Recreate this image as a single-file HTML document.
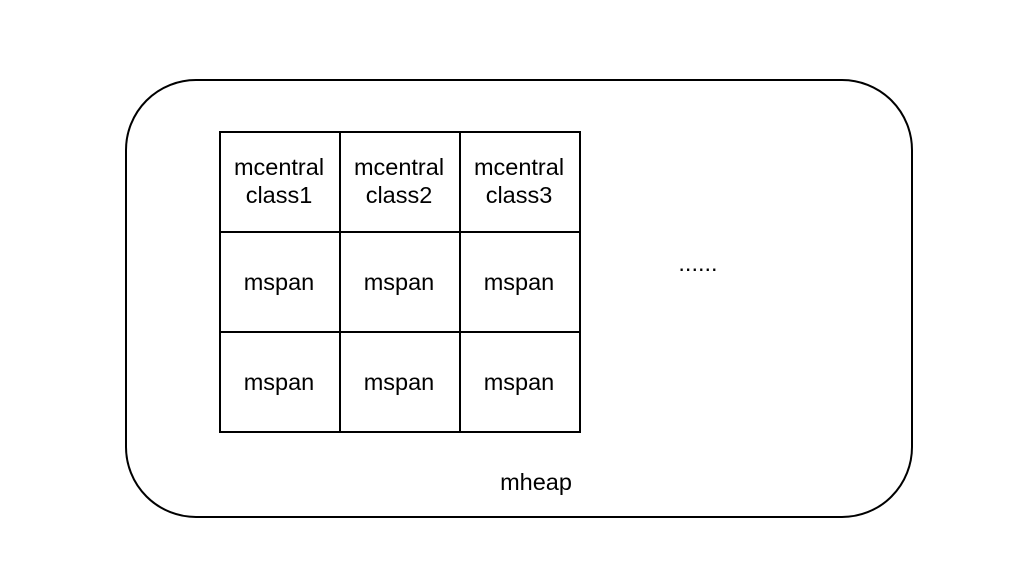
<!DOCTYPE html>
<html><head><style>
body{margin:0;width:1032px;height:582px;background:#fff;overflow:hidden;font-family:"Liberation Sans",Helvetica,Arial,sans-serif;}
</style></head><body>
<svg width="1032" height="582" xmlns="http://www.w3.org/2000/svg" font-family="Liberation Sans, Helvetica, Arial, sans-serif" font-size="23.5" text-anchor="middle" fill="#000">
<rect x="126" y="80" width="786" height="437" rx="70" ry="70" fill="#fff" stroke="#000" stroke-width="2"/>
<g fill="#fff" stroke="#000" stroke-width="2">
<rect x="220" y="132" width="120" height="100"/><rect x="340" y="132" width="120" height="100"/><rect x="460" y="132" width="120" height="100"/>
<rect x="220" y="232" width="120" height="100"/><rect x="340" y="232" width="120" height="100"/><rect x="460" y="232" width="120" height="100"/>
<rect x="220" y="332" width="120" height="100"/><rect x="340" y="332" width="120" height="100"/><rect x="460" y="332" width="120" height="100"/>
</g>
<text x="279" y="175">mcentral</text><text x="279" y="203">class1</text>
<text x="399" y="175">mcentral</text><text x="399" y="203">class2</text>
<text x="519" y="175">mcentral</text><text x="519" y="203">class3</text>
<text x="279" y="290">mspan</text><text x="399" y="290">mspan</text><text x="519" y="290">mspan</text>
<text x="279" y="390">mspan</text><text x="399" y="390">mspan</text><text x="519" y="390">mspan</text>
<text x="698" y="271">......</text>
<text x="536" y="490">mheap</text>
</svg>
</body></html>
